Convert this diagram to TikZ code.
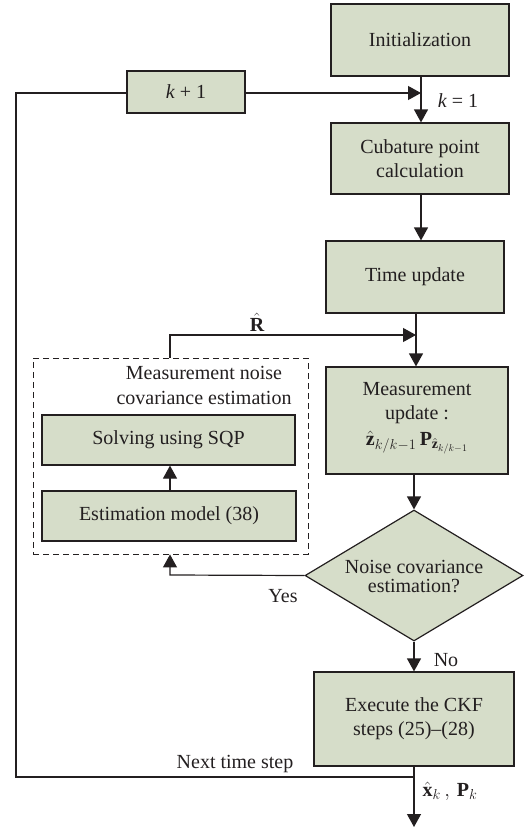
\documentclass[tikz,border=0pt]{standalone}
\usepackage{fontspec}
\setmainfont{Liberation Serif}
\usetikzlibrary{shapes.geometric,arrows.meta}
\definecolor{boxfill}{RGB}{214,221,201}
\definecolor{ink}{RGB}{35,31,32}
\begin{document}
\begin{tikzpicture}[x=1pt,y=-1pt,
  every node/.style={font=\fontsize{20}{24}\selectfont, text=ink},
  stepbox/.style={draw=ink, line width=1.2pt, fill=boxfill, inner sep=0pt, align=center},
  arr/.style={draw=ink, line width=1.2pt, -{Triangle[length=13pt,width=14pt]}},
  ln/.style={draw=ink, line width=1.2pt},
  lbl/.style={inner sep=0pt}]
\useasboundingbox (0,0) rectangle (530,827);
\node[stepbox, minimum width=178, minimum height=72] (init) at (420,40) {Initialization};
\node[stepbox, minimum width=118, minimum height=42] (kp1) at (186,92) {\textit{k} + 1};
\node[stepbox, minimum width=178, minimum height=71] (cub) at (420,158.5) {Cubature point\\calculation};
\node[stepbox, minimum width=178, minimum height=72] (time) at (415,277) {Time update};
\node[stepbox, minimum width=182, minimum height=107] (meas) at (417,420.5) {};
\node[lbl, align=center, font=\fontsize{20}{24}\selectfont] (meastxt) at (417,418) {Measurement\\update :\\[2pt]$\hat{\mathbf{z}}_{k/k-1}\,\mathbf{P}_{\hat{\mathbf{z}}_{k/k-1}}$};
\node[draw=ink, fill=boxfill, line width=1.2pt, diamond, minimum width=218, minimum height=131, inner sep=0pt] (dec) at (414,575.5) {};
\node[lbl, align=center, font=\fontsize{20}{19}\selectfont] (dectxt) at (414,577) {Noise covariance\\estimation?};
\node[stepbox, minimum width=200, minimum height=94] (exec) at (414,719) {Execute the CKF\\steps (25)--(28)};
\node[draw=ink, line width=0.9pt, dash pattern=on 6pt off 4pt, minimum width=275, minimum height=196, inner sep=0pt] (dbox) at (170.5,456) {};
\node[lbl, align=center, font=\fontsize{20}{25}\selectfont] (dboxtxt) at (204,385) {Measurement noise\\covariance estimation};
\node[stepbox, minimum width=253, minimum height=50] (solv) at (168.5,440) {Solving using SQP};
\node[stepbox, minimum width=254, minimum height=50] (est) at (169,516) {Estimation model (38)};
% labels
\node[lbl] (k1) at (458,101) {\textit{k} = 1};
\node[lbl] (rhat) at (257,322) {$\hat{\mathbf{R}}$};
\node[lbl] (yes) at (283,596) {Yes};
\node[lbl] (no) at (446,660) {No};
\node[lbl] (nts) at (235,764) {Next time step};
\node[lbl] (out) at (450,791) {$\hat{\mathbf{x}}_k\,,\,\mathbf{P}_k$};
% coordinates
\coordinate (j1) at (421,93);
\coordinate (j2) at (416,335);
\coordinate (c1) at (170,335);
\coordinate (c2) at (170,575);
\coordinate (n1) at (414,777);
\coordinate (n2) at (16,777);
\coordinate (n3) at (16,93);
\coordinate (endout) at (414,827);
% connectors
\draw[arr] (init.south -| j1) -- (cub.north -| j1);
\draw[arr] (kp1.east |- j1) -- (j1);
\draw[arr] (cub.south -| j1) -- (time.north -| j1);
\draw[arr] (time.south -| j2) -- (meas.north -| j2);
\draw[arr] (dbox.north -| c1) -- (c1) -- (j2);
\draw[arr] (meas.south -| dec.north) -- (dec.north);
\draw[arr] (dec.south) -- (exec.north -| dec.south);
\draw[arr] (dec.west) -- (c2) -- (dbox.south -| c2);
\draw[arr] (est.north -| c1) -- (solv.south -| c1);
\draw[arr] (exec.south -| n1) -- (endout);
\draw[ln] (n1) -- (n2) -- (n3) -- (kp1.west |- n3);
\end{tikzpicture}
\end{document}
